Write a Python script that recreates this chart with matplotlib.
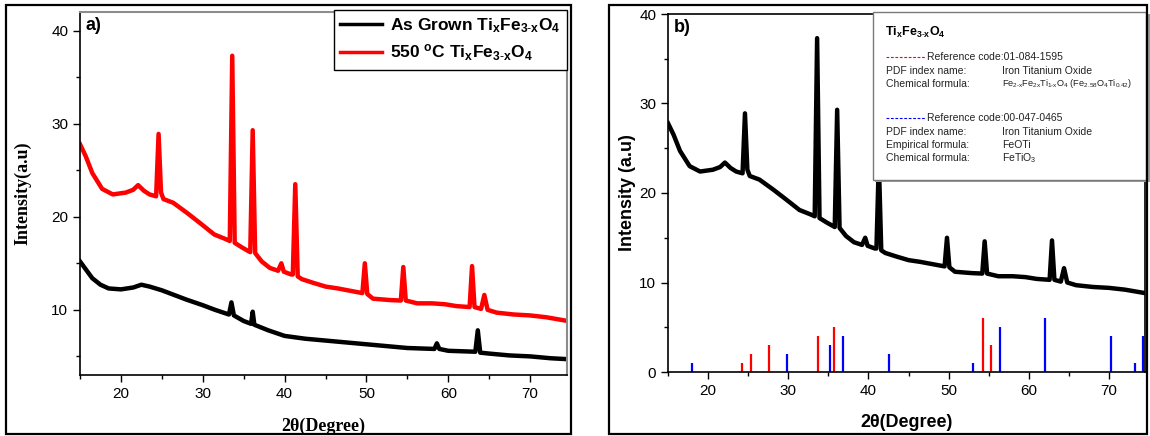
import matplotlib
matplotlib.use("Agg")
import matplotlib.pyplot as plt
from matplotlib.patches import Rectangle
from matplotlib.lines import Line2D
from matplotlib.ticker import MultipleLocator

plt.rcParams['font.family'] = ['Liberation Sans', 'DejaVu Sans']
plt.rcParams['mathtext.fontset'] = 'custom'
plt.rcParams['mathtext.rm'] = 'Liberation Sans'
plt.rcParams['mathtext.it'] = 'Liberation Sans:italic'
plt.rcParams['mathtext.bf'] = 'Liberation Sans:bold'
plt.rcParams['mathtext.default'] = 'regular'

# 550 C annealed Ti_xFe_(3-x)O_4 pattern (also shown in panel b)
tt_annealed = [15.0, 15.7, 16.5, 17.7, 19.0, 20.6, 21.5, 22.1, 22.8, 23.5, 24.3, 24.6, 24.9,
               25.2, 26.4, 28.1, 29.7, 31.4, 32.8, 33.3, 33.6, 33.9, 34.8, 35.8, 36.1, 36.4,
               37.2, 38.2, 39.2, 39.6, 39.9, 40.8, 41.0, 41.3, 41.6, 42.1, 43.5, 45.0, 46.5,
               48.3, 49.5, 49.8, 50.1, 50.8, 52.9, 54.2, 54.5, 54.8, 56.2, 58.0, 59.6, 61.0,
               62.6, 62.9, 63.2, 64.0, 64.4, 64.8, 65.9, 68.0, 70.0, 72.0, 74.6]
int_annealed = [27.8, 26.5, 24.7, 23.0, 22.4, 22.6, 22.9, 23.4, 22.8, 22.4, 22.2, 28.9, 22.6,
                21.9, 21.5, 20.4, 19.3, 18.1, 17.6, 17.4, 37.3, 17.2, 16.7, 16.2, 29.3, 16.1,
                15.2, 14.5, 14.2, 15.0, 14.1, 13.8, 13.8, 23.5, 13.6, 13.3, 12.9, 12.5, 12.3,
                12.0, 11.8, 15.0, 11.7, 11.2, 11.05, 11.0, 14.6, 11.0, 10.7, 10.7, 10.6, 10.4,
                10.3, 14.7, 10.3, 10.1, 11.6, 10.0, 9.7, 9.5, 9.4, 9.2, 8.8]

# as grown pattern
tt_grown = [15.0, 15.5, 16.5, 17.5, 18.5, 20.0, 21.5, 22.5, 23.5, 25.0, 26.5, 28.0, 30.0,
            31.5, 33.2, 33.5, 33.8, 35.0, 35.9, 36.1, 36.3, 38.0, 40.0, 42.5, 45.0, 47.5,
            50.0, 52.5, 55.0, 58.3, 58.6, 58.9, 60.0, 63.3, 63.6, 63.9, 65.0, 67.5, 70.0,
            72.5, 74.6]
int_grown = [15.2, 14.6, 13.4, 12.7, 12.3, 12.2, 12.4, 12.7, 12.5, 12.1, 11.6, 11.1, 10.5,
             10.0, 9.5, 10.8, 9.4, 8.8, 8.5, 9.8, 8.4, 7.8, 7.2, 6.9, 6.7, 6.5,
             6.3, 6.1, 5.9, 5.8, 6.4, 5.8, 5.6, 5.5, 7.8, 5.4, 5.3, 5.1, 5.0,
             4.8, 4.7]

# reference patterns (stick positions and relative heights)
ref1_pos = [24.2, 25.4, 27.6, 33.7, 35.7, 54.3, 55.3]
ref1_h = [1, 2, 3, 4, 5, 6, 3]
ref2_pos = [18.0, 29.9, 35.2, 36.8, 42.6, 53.0, 56.4, 62.0, 70.3, 73.2, 74.2]
ref2_h = [1, 2, 3, 4, 2, 1, 5, 6, 4, 1, 4]

W, H = 1150, 436


def fx(x):
    return x / W


def fy(y):
    return 1 - y / H


fig = plt.figure(figsize=(W / 100, H / 100), dpi=100)

# ---- panel a ----
ax1 = fig.add_axes([fx(80), fy(375), fx(487), 363 / H])
ax1.plot(tt_grown, int_grown, color='black', lw=3.2,
         label=r'As Grown Ti$_{\mathbf{x}}$Fe$_{\mathbf{3\text{-}x}}$O$_{\mathbf{4}}$')
ax1.plot(tt_annealed, int_annealed, color='red', lw=3.2,
         label=r'550 $^{\mathbf{o}}$C Ti$_{\mathbf{x}}$Fe$_{\mathbf{3\text{-}x}}$O$_{\mathbf{4}}$')
ax1.set_xlim(15, 74.5)
ax1.set_ylim(3, 42)
ax1.xaxis.set_major_locator(MultipleLocator(10))
ax1.xaxis.set_minor_locator(MultipleLocator(5))
ax1.yaxis.set_major_locator(MultipleLocator(10))
ax1.yaxis.set_minor_locator(MultipleLocator(5))
ax1.tick_params(which='major', direction='out', length=5, width=1, labelsize=11)
ax1.tick_params(which='minor', direction='out', length=3, width=1)
ax1.tick_params(top=False, right=False)
for s in ['left', 'bottom']:
    ax1.spines[s].set_linewidth(1.2)
for s in ['top', 'right']:
    ax1.spines[s].set_color('#8c8c8c')
    ax1.spines[s].set_linewidth(1.5)
ax1.set_xlabel('2θ(Degree)', fontfamily='Liberation Serif', fontweight='bold', fontsize=13, labelpad=12)
ax1.set_ylabel('Intensity(a.u)', fontfamily='Liberation Serif', fontweight='bold', fontsize=13, labelpad=14)
ax1.text(0.012, 0.985, 'a)', transform=ax1.transAxes, fontsize=13, fontweight='bold', va='top')
leg = ax1.legend(loc='upper right', bbox_to_anchor=(1.0, 1.005), borderaxespad=0, fancybox=False,
                 framealpha=1, edgecolor='black', prop={'weight': 'bold', 'size': 12.5},
                 handlelength=2.4, handletextpad=0.5, borderpad=0.35, labelspacing=0.45)
leg.get_frame().set_linewidth(1.0)
for line in leg.get_lines():
    line.set_linewidth(2.5)

# ---- panel b ----
ax2 = fig.add_axes([fx(668), fy(372), fx(477), 358 / H])
ax2.plot(tt_annealed, int_annealed, color='black', lw=3.2)
ax2.vlines(ref1_pos, 0, ref1_h, color='red', lw=1.6)
ax2.vlines(ref2_pos, 0, ref2_h, color='blue', lw=1.6)
ax2.set_xlim(15, 74.5)
ax2.set_ylim(0, 40)
ax2.xaxis.set_major_locator(MultipleLocator(10))
ax2.xaxis.set_minor_locator(MultipleLocator(5))
ax2.yaxis.set_major_locator(MultipleLocator(10))
ax2.yaxis.set_minor_locator(MultipleLocator(5))
ax2.tick_params(which='major', direction='out', length=5, width=1, labelsize=11)
ax2.tick_params(which='minor', direction='out', length=3, width=1)
for s in ax2.spines.values():
    s.set_linewidth(1.2)
ax2.set_xlabel('2θ(Degree)', fontweight='bold', fontsize=13, labelpad=12)
ax2.set_ylabel('Intensity (a.u)', fontweight='bold', fontsize=13, labelpad=2)
ax2.text(0.012, 0.985, 'b)', transform=ax2.transAxes, fontsize=13, fontweight='bold', va='top')

# reference card
fig.add_artist(Rectangle((fx(875), fy(182)), fx(275), 168 / H, transform=fig.transFigure,
                         facecolor='#9a9a9a', edgecolor='none', zorder=5))
fig.add_artist(Rectangle((fx(873), fy(180)), fx(273), 168 / H, transform=fig.transFigure,
                         facecolor='white', edgecolor='#7a7a7a', lw=1, zorder=6))
fig.text(fx(885), fy(32), r'Ti$_\mathbf{x}$Fe$_\mathbf{3\text{-}x}$O$_\mathbf{4}$', fontsize=9,
         fontweight='bold', va='center', zorder=7)

card = [
    (57, 'red', 'Reference code:01-084-1595'),
    (118, 'blue', 'Reference code:00-047-0465'),
]
for y, c, txt in card:
    fig.add_artist(Line2D([fx(886), fx(926)], [fy(y), fy(y)], transform=fig.transFigure,
                          color=c, lw=0.8, ls=(0, (2.5, 1.5)), zorder=7))
    fig.text(fx(927), fy(y), txt, fontsize=7.5, va='center', color='#222222', zorder=7)

rows = [
    (71, 'PDF index name:', 'Iron Titanium Oxide', 7.5),
    (84, 'Chemical formula:',
     r'Fe$_{2\text{-}x}$Fe$_{2x}$Ti$_{1\text{-}x}$O$_4$ (Fe$_{2.58}$O$_4$Ti$_{0.42}$)', 6.6),
    (132, 'PDF index name:', 'Iron Titanium Oxide', 7.5),
    (145, 'Empirical formula:', 'FeOTi', 7.5),
    (158, 'Chemical formula:', r'FeTiO$_3$', 7.5),
]
for y, label, value, fs in rows:
    fig.text(fx(886), fy(y), label, fontsize=7.5, va='center', color='#222222', zorder=7)
    fig.text(fx(1002), fy(y), value, fontsize=fs, va='center', color='#222222', zorder=7)

# panel frames
fig.add_artist(Rectangle((fx(6), fy(434)), fx(565), 429 / H, transform=fig.transFigure,
                         fill=False, edgecolor='black', lw=1.6, zorder=8))
fig.add_artist(Rectangle((fx(609), fy(434)), fx(538), 429 / H, transform=fig.transFigure,
                         fill=False, edgecolor='black', lw=1.6, zorder=8))

fig.savefig('out.png', dpi=100, facecolor='white')
